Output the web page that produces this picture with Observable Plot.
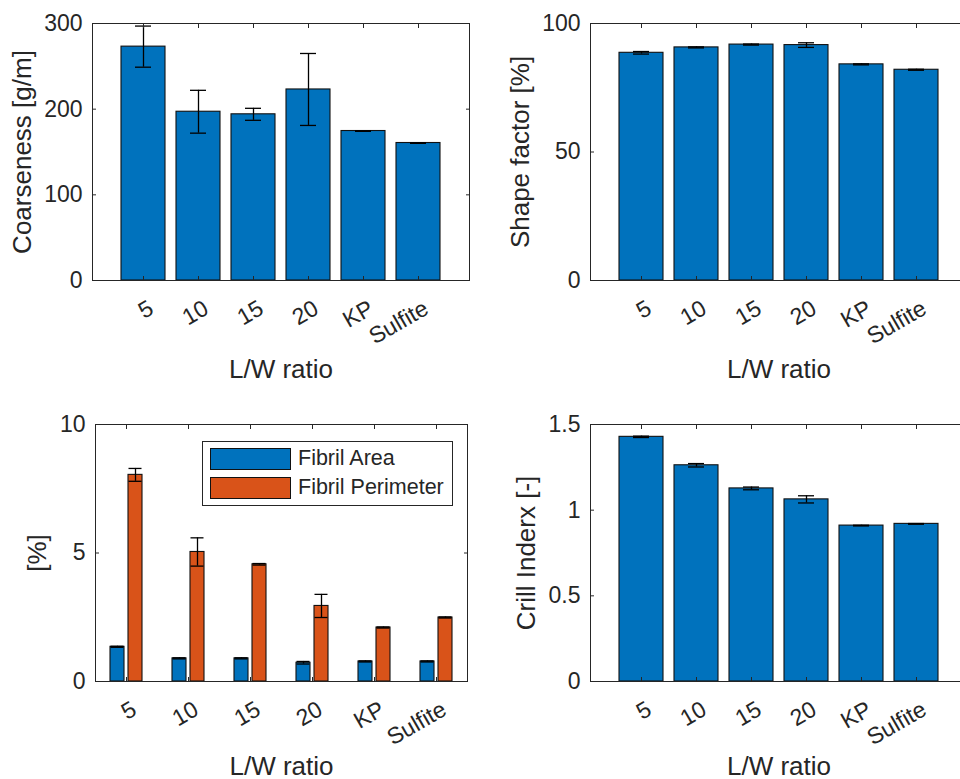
<!DOCTYPE html>
<html>
<head>
<meta charset="utf-8">
<script src="https://cdn.jsdelivr.net/npm/d3@7"></script>
<script src="https://cdn.jsdelivr.net/npm/@observablehq/plot@0.6"></script>
<style>
html, body { margin: 0; padding: 0; background: #fff; }
#wrap { position: relative; width: 960px; height: 779px; overflow: hidden; background: #fff;
  font-family: "Liberation Sans", Arial, Helvetica, sans-serif; }
.panel { position: absolute; }
.panel svg { overflow: visible; max-width: none !important; height: auto; display: block; }
#legend { position: absolute; left: 202px; top: 441px; width: 251px; height: 65px; box-sizing: border-box;
  border: 1px solid #262626; background: #fff; }
#legend .sw { position: absolute; left: 7px; width: 81px; height: 22px; box-sizing: border-box; border: 1.2px solid #111; }
#legend .lb { position: absolute; left: 95px; font-size: 21.5px; line-height: 22px; color: #262626; white-space: nowrap; }
</style>
</head>
<body>
<div id="wrap"></div>
<script>
// ---- data ----
const categories = ["5", "10", "15", "20", "KP", "Sulfite"];
const coarseness = [273, 197, 194, 223, 174.5, 160.5];
const coarsenessErr = [24, 25, 7, 42, 0.4, 0.4];
const shapeFactor = [88.6, 90.7, 91.8, 91.6, 84.1, 82.0];
const shapeFactorErr = [0.5, 0.2, 0.2, 0.9, 0.2, 0.2];
const fibrilArea = [1.35, 0.9, 0.9, 0.73, 0.78, 0.78];
const fibrilAreaErr = [0.02, 0.02, 0.02, 0.05, 0.02, 0.02];
const fibrilPerimeter = [8.04, 5.04, 4.56, 2.94, 2.1, 2.49];
const fibrilPerimeterErr = [0.25, 0.55, 0.03, 0.45, 0.02, 0.02];
const crillIndex = [1.428, 1.262, 1.127, 1.063, 0.910, 0.920];
const crillIndexErr = [0.004, 0.01, 0.008, 0.021, 0.002, 0.002];
const seriesNames = ["Fibril Area", "Fibril Perimeter"];
const ticksCoarseness = [0, 100, 200, 300];
const ticksShape = [0, 50, 100];
const ticksFibril = [0, 5, 10];
const ticksCrill = [0, 0.5, 1, 1.5];
const xLabel = "L/W ratio";

const BLUE = "#0072BD", ORANGE = "#D95319", AX = "#262626";
const FONT = "'Liberation Sans', Arial, Helvetica, sans-serif";
const TICKFS = 23, LABELFS = 26;

const wrap = document.getElementById("wrap");
function place(node, left, top, width) {
  const d = document.createElement("div");
  d.className = "panel"; d.style.left = left + "px"; d.style.top = top + "px"; d.style.width = width + "px";
  d.appendChild(node); wrap.appendChild(d);
}

function frameAxes(kx, yTicks, yLabel, yLabelOffset, xLabelOffset) {
  const axX = kx === "fx" ? Plot.axisFx : Plot.axisX;
  return [
    kx === "fx" ? Plot.frame({facet: "super", stroke: AX, strokeWidth: 1}) : Plot.frame({stroke: AX, strokeWidth: 1}),
    axX({anchor: "bottom", tickSize: -4, tickFormat: () => "", stroke: AX, label: null}),
    axX({anchor: "top", tickSize: -4, tickFormat: () => "", stroke: AX, label: null}),
    Plot.axisY({anchor: "left", ticks: yTicks, tickSize: -4, tickFormat: () => "", stroke: AX, label: null}),
    Plot.axisY({anchor: "right", ticks: yTicks, tickSize: -4, tickFormat: () => "", stroke: AX, label: null}),
    axX({anchor: "bottom", tickSize: 0, tickPadding: 26, tickRotate: -30, dx: 8, fontSize: TICKFS, fill: AX, label: null}),
    axX({anchor: "bottom", ticks: [], tickSize: 0, label: xLabel, labelAnchor: "center", labelArrow: "none", labelOffset: xLabelOffset, fontSize: LABELFS, fill: AX}),
    Plot.axisY({anchor: "left", ticks: yTicks, tickSize: 0, tickPadding: 10, tickFormat: d => String(d), fontSize: TICKFS, fill: AX, label: null}),
    Plot.axisY({anchor: "left", ticks: [], tickSize: 0, label: yLabel, labelAnchor: "center", labelArrow: "none", labelOffset: yLabelOffset, fontSize: LABELFS, fill: AX})
  ];
}

function simplePanel(values, errs, yDomain, yTicks, yLabel, yLabelOffset, opts) {
  const data = categories.map((c, i) => ({cat: c, v: values[i], lo: values[i] - errs[i], hi: values[i] + errs[i]}));
  return Plot.plot({
    width: opts.width, height: 400,
    marginLeft: opts.marginLeft, marginRight: opts.marginRight, marginTop: opts.marginTop, marginBottom: 400 - opts.marginTop - 257,
    style: {fontFamily: FONT, color: AX, background: "transparent", overflow: "visible"},
    x: {domain: categories, paddingInner: 0.2, paddingOuter: 0.49, axis: null},
    y: {domain: yDomain, axis: null},
    marks: [
      Plot.barY(data, {x: "cat", y: "v", fill: BLUE, stroke: "#111", strokeWidth: 1.1}),
      Plot.ruleX(data, {x: "cat", y1: "lo", y2: "hi", stroke: "#000", strokeWidth: 1.3}),
      Plot.tickY(data, {x: "cat", y: "lo", stroke: "#000", strokeWidth: 1.3, insetLeft: 14, insetRight: 14}),
      Plot.tickY(data, {x: "cat", y: "hi", stroke: "#000", strokeWidth: 1.3, insetLeft: 14, insetRight: 14}),
      ...frameAxes("x", yTicks, yLabel, yLabelOffset, opts.xLabelOffset)
    ]
  });
}

// Panel 1
place(simplePanel(coarseness, coarsenessErr, [0, 300], ticksCoarseness, "Coarseness [g/m]", 80,
  {width: 480, marginLeft: 92, marginRight: 11, marginTop: 23, xLabelOffset: 97}), 0, 0, 480);
// Panel 2
place(simplePanel(shapeFactor, shapeFactorErr, [0, 100], ticksShape, "Shape factor [%]", 80,
  {width: 500, marginLeft: 110, marginRight: 13, marginTop: 23, xLabelOffset: 97}), 480, 0, 500);
// Panel 4
place(simplePanel(crillIndex, crillIndexErr, [0, 1.5], ticksCrill, "Crill Inderx [-]", 74,
  {width: 500, marginLeft: 110, marginRight: 13, marginTop: 24, xLabelOffset: 93}), 480, 400, 500);

// Panel 3 (grouped)
const fib = [];
categories.forEach((c, i) => {
  fib.push({cat: c, series: seriesNames[0], v: fibrilArea[i], lo: fibrilArea[i] - fibrilAreaErr[i], hi: fibrilArea[i] + fibrilAreaErr[i]});
  fib.push({cat: c, series: seriesNames[1], v: fibrilPerimeter[i], lo: fibrilPerimeter[i] - fibrilPerimeterErr[i], hi: fibrilPerimeter[i] + fibrilPerimeterErr[i]});
});
place(Plot.plot({
  width: 480, height: 400, marginLeft: 92, marginRight: 11, marginTop: 24, marginBottom: 400 - 24 - 257,
  style: {fontFamily: FONT, color: AX, background: "transparent", overflow: "visible"},
  fx: {domain: categories, padding: 0, label: null},
  x: {domain: seriesNames, paddingInner: 0.21, paddingOuter: 0.758, axis: null},
  y: {domain: [0, 10], axis: null},
  color: {domain: seriesNames, range: [BLUE, ORANGE]},
  marks: [
    Plot.barY(fib, {fx: "cat", x: "series", y: "v", fill: "series", stroke: "#111", strokeWidth: 1.1}),
    Plot.ruleX(fib, {fx: "cat", x: "series", y1: "lo", y2: "hi", stroke: "#000", strokeWidth: 1.3}),
    Plot.tickY(fib, {fx: "cat", x: "series", y: "lo", stroke: "#000", strokeWidth: 1.3, insetLeft: 0.5, insetRight: 0.5}),
    Plot.tickY(fib, {fx: "cat", x: "series", y: "hi", stroke: "#000", strokeWidth: 1.3, insetLeft: 0.5, insetRight: 0.5}),
    ...frameAxes("fx", ticksFibril, "[%]", 68, 93)
  ]
}), 0, 400, 480);

// Legend
const lg = document.createElement("div");
lg.id = "legend";
seriesNames.forEach((name, i) => {
  const sw = document.createElement("div");
  sw.className = "sw"; sw.style.top = (6 + i * 29) + "px";
  sw.style.background = i === 0 ? BLUE : ORANGE;
  const lb = document.createElement("div");
  lb.className = "lb"; lb.style.top = (5 + i * 29) + "px"; lb.textContent = name;
  lg.appendChild(sw); lg.appendChild(lb);
});
wrap.appendChild(lg);
</script>
</body>
</html>
